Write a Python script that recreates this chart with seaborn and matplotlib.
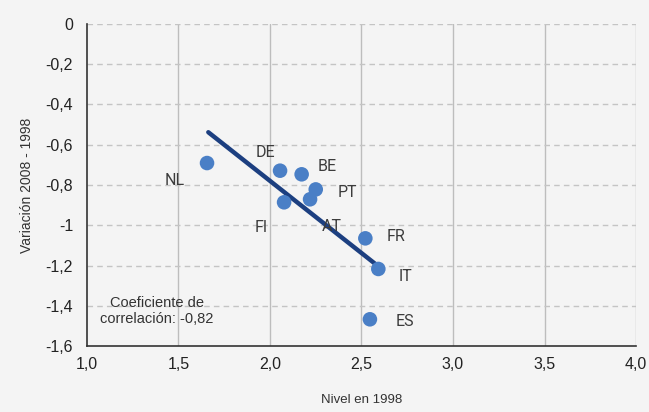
import matplotlib
matplotlib.use("Agg")
import matplotlib.pyplot as plt
import seaborn as sns
import pandas as pd

countries = ["NL", "DE", "BE", "PT", "AT", "FI", "FR", "IT", "ES"]
nivel_1998 = [1.656, 2.055, 2.173, 2.250, 2.219, 2.077, 2.521, 2.592, 2.546]
variacion = [-0.691, -0.729, -0.747, -0.822, -0.871, -0.886, -1.065, -1.217, -1.467]
label_x = [1.481, 1.976, 2.310, 2.424, 2.337, 1.954, 2.687, 2.743, 2.738]
label_y = [-0.779, -0.640, -0.706, -0.838, -1.007, -1.010, -1.057, -1.255, -1.479]
trend_x = [1.663, 2.588]
trend_y = [-0.538, -1.201]
x_ticks = [1.0, 1.5, 2.0, 2.5, 3.0, 3.5, 4.0]
y_ticks = [0, -0.2, -0.4, -0.6, -0.8, -1.0, -1.2, -1.4, -1.6]
y_ticklabels = ["0", "-0,2", "-0,4", "-0,6", "-0,8", "-1", "-1,2", "-1,4", "-1,6"]
x_ticklabels = ["1,0", "1,5", "2,0", "2,5", "3,0", "3,5", "4,0"]

sns.set_theme(style="white")
plt.rcParams["font.family"] = ["Liberation Sans", "DejaVu Sans"]

bg = "#f4f4f4"
fig = plt.figure(figsize=(6.49, 4.12), dpi=100, facecolor=bg)
ax = fig.add_axes([0.134, 0.160, 0.846, 0.782])
ax.set_facecolor(bg)

df = pd.DataFrame({"x": nivel_1998, "y": variacion, "c": countries})
tdf = pd.DataFrame({"x": trend_x, "y": trend_y})

ax.set_xlim(1.0, 4.0)
ax.set_ylim(-1.6, 0)

for xv in x_ticks[1:]:
    ax.axvline(xv, color="#bdbdbd", lw=1.0, zorder=0)
for yv in y_ticks[:-1]:
    ax.axhline(yv, color="#c4c4c4", lw=1.0, ls=(0, (4, 3)), zorder=0)

sns.lineplot(data=tdf, x="x", y="y", ax=ax, color="#1c3f80", lw=3.2, zorder=2)
sns.scatterplot(data=df, x="x", y="y", ax=ax, color="#4a7fc6", s=110,
                edgecolor="none", zorder=3)

for c, lx, ly in zip(countries, label_x, label_y):
    ax.text(lx, ly, c, ha="center", va="center", fontsize=11.5, color="#3c3c3c",
            family=["Roboto", "DejaVu Sans"])

ax.text(1.383, -1.426, "Coeficiente de\ncorrelación: -0,82", ha="center",
        va="center", fontsize=10.5, color="#333333", linespacing=1.25)

ax.set_xticks(x_ticks)
ax.set_xticklabels(x_ticklabels, fontsize=11.5, color="#222222")
ax.set_yticks(y_ticks)
ax.set_yticklabels(y_ticklabels, fontsize=11.5, color="#222222")
ax.tick_params(axis="both", direction="in", length=4, width=1, color="#333333",
               pad=8)
ax.tick_params(axis="y", pad=10)

for side in ["top", "right"]:
    ax.spines[side].set_visible(False)
for side in ["left", "bottom"]:
    ax.spines[side].set_color("#333333")
    ax.spines[side].set_linewidth(1.2)

ax.set_xlabel("Nivel en 1998", fontsize=9.5, color="#333333", labelpad=16)
ax.set_ylabel("Variación 2008 - 1998", fontsize=10, color="#333333", labelpad=8)

fig.savefig("out.png", dpi=100, facecolor=bg)
